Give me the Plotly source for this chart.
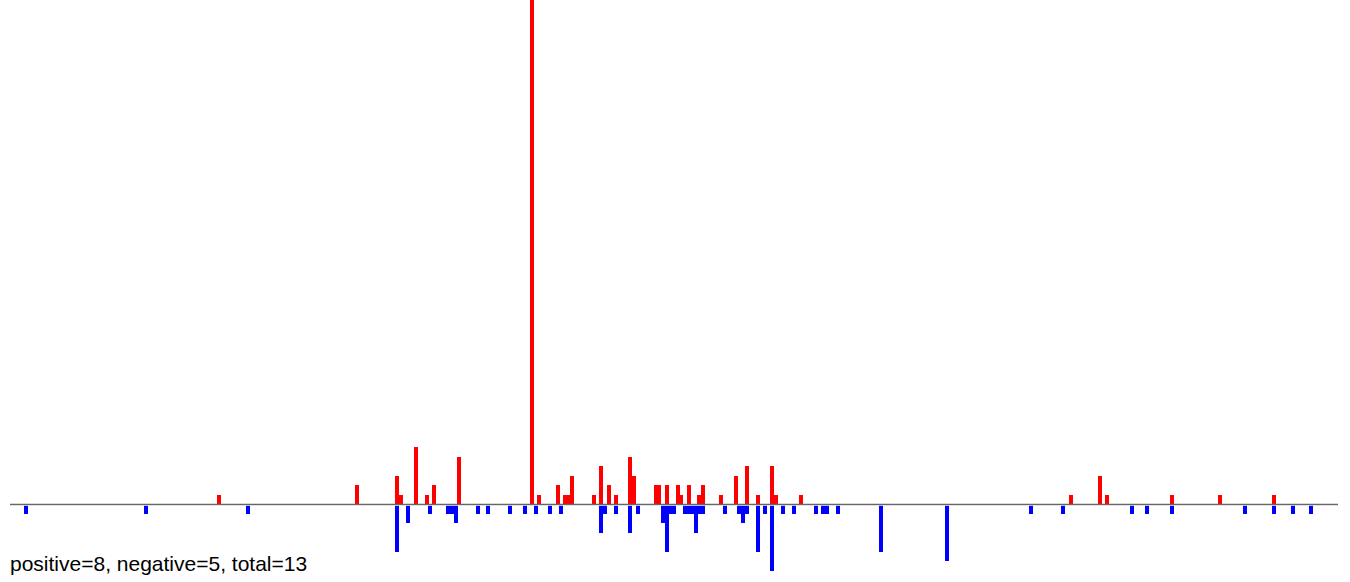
import plotly.graph_objects as go

# day index (0..364) and values
pos_days = [57, 95, 106, 107, 111, 114, 116, 123, 143, 145, 150, 152, 153, 154, 160, 162, 164, 166,
            170, 171, 177, 178, 180, 183, 184, 186, 189, 190, 195, 199, 202, 205, 209, 210, 217,
            291, 299, 301, 319, 332, 347]
pos_vals = [1, 2, 3, 1, 6, 1, 2, 5, 53, 1, 2, 1, 1, 3, 1, 4, 2, 1,
            5, 3, 2, 2, 2, 2, 1, 2, 1, 2, 1, 3, 4, 1, 4, 1, 1,
            1, 3, 1, 1, 1, 1]

neg_days = [4, 37, 65, 106, 109, 115, 120, 121, 122, 128, 131, 137, 141, 144, 148, 151, 162, 163,
            166, 170, 172, 179, 180, 181, 182, 185, 186, 187, 188, 189, 190, 196, 200, 201, 202,
            205, 207, 209, 212, 215, 221, 223, 224, 227, 239, 257, 280, 289, 308, 312, 319, 339,
            347, 352, 357]
neg_vals = [1, 1, 1, 5, 2, 1, 1, 1, 2, 1, 1, 1, 1, 1, 1, 1, 3, 1,
            1, 3, 1, 2, 5, 1, 1, 1, 1, 1, 3, 1, 1, 1, 1, 2, 1,
            5, 1, 7, 1, 1, 1, 1, 1, 1, 5, 6, 1, 1, 1, 1, 1, 1,
            1, 1, 1]

summary = "positive=8, negative=5, total=13"

fig = go.Figure()
fig.add_trace(go.Bar(x=pos_days, y=pos_vals, width=1.1, marker=dict(color="#ff0000", line=dict(width=0)),
                     hoverinfo="x+y"))
fig.add_trace(go.Bar(x=neg_days, y=[-v for v in neg_vals], width=1.1,
                     marker=dict(color="#0000ff", line=dict(width=0)), hoverinfo="x+y"))

fig.add_shape(type="line", xref="paper", x0=0, x1=1, yref="y", y0=-0.1, y1=-0.1,
              line=dict(color="#dddddd", width=1), layer="above")
fig.add_shape(type="line", xref="paper", x0=0, x1=1, yref="y", y0=0, y1=0,
              line=dict(color="#666666", width=1.2), layer="above")

fig.add_annotation(text=summary, xref="paper", yref="paper", x=-0.0015, y=0.0123,
                   xanchor="left", yanchor="middle", showarrow=False,
                   font=dict(family="Liberation Sans, Arial, sans-serif", size=21, color="#000000"))

fig.update_layout(
    template="none",
    width=1350, height=582,
    margin=dict(l=10, r=12, t=0, b=11),
    barmode="relative",
    bargap=0,
    showlegend=False,
    paper_bgcolor="white",
    plot_bgcolor="white",
    xaxis=dict(visible=False, range=[-0.5, 364.5]),
    yaxis=dict(visible=False, range=[-7, 53]),
)

fig.write_html("out.html", config={"displayModeBar": False},
               post_script="document.body.style.margin='0';document.body.style.overflow='hidden';")
